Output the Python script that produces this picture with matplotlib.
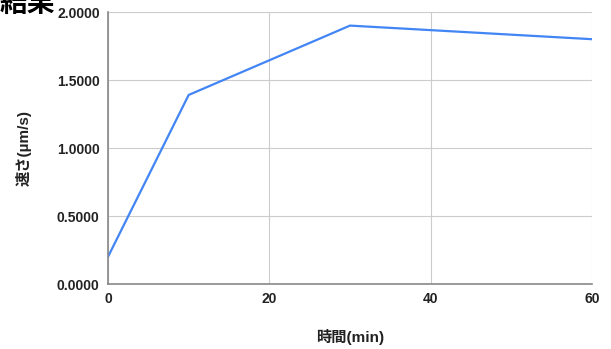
import matplotlib.pyplot as plt
from matplotlib.ticker import FormatStrFormatter

plt.rcParams['font.family'] = ['Liberation Sans', 'Noto Sans CJK JP', 'DejaVu Sans']

# data
time_min = [0, 10, 30, 60]
speed = [0.2, 1.39, 1.9, 1.8]
x_ticks = [0, 20, 40, 60]
y_ticks = [0.0, 0.5, 1.0, 1.5, 2.0]

fig = plt.figure(figsize=(6.11, 3.49), dpi=100)
ax = fig.add_axes([108 / 611, 1 - 284 / 349, (592 - 108) / 611, (284 - 12) / 349])

ax.plot(time_min, speed, color='#4285F4', linewidth=1.6)

ax.set_xlim(0, 60)
ax.set_ylim(0, 2.0)
ax.set_xticks(x_ticks)
ax.set_yticks(y_ticks)
ax.yaxis.set_major_formatter(FormatStrFormatter('%.4f'))
ax.grid(True, color='#cccccc', linewidth=0.8)
ax.set_axisbelow(True)
ax.tick_params(length=0, labelsize=10, pad=6)
for lbl in ax.get_xticklabels() + ax.get_yticklabels():
    lbl.set_fontweight('bold')
    lbl.set_color('#222222')

for side in ['top', 'right']:
    ax.spines[side].set_visible(False)
ax.spines['left'].set_color('#888888')
ax.spines['bottom'].set_color('#888888')
ax.spines['left'].set_linewidth(1.2)
ax.spines['bottom'].set_linewidth(1.2)

ax.set_xlabel('時間(min)', fontsize=11, fontweight='bold', labelpad=16, color='#222222')
ax.set_ylabel('速さ(µm/s)', fontsize=11, fontweight='bold', labelpad=18, color='#222222')

# title is clipped at the top edge, as in the original
fig.text(0.0, 1 - 12 / 349, '結果', fontsize=20, fontweight='bold', ha='left', va='baseline')

fig.savefig('out.png', dpi=100)
